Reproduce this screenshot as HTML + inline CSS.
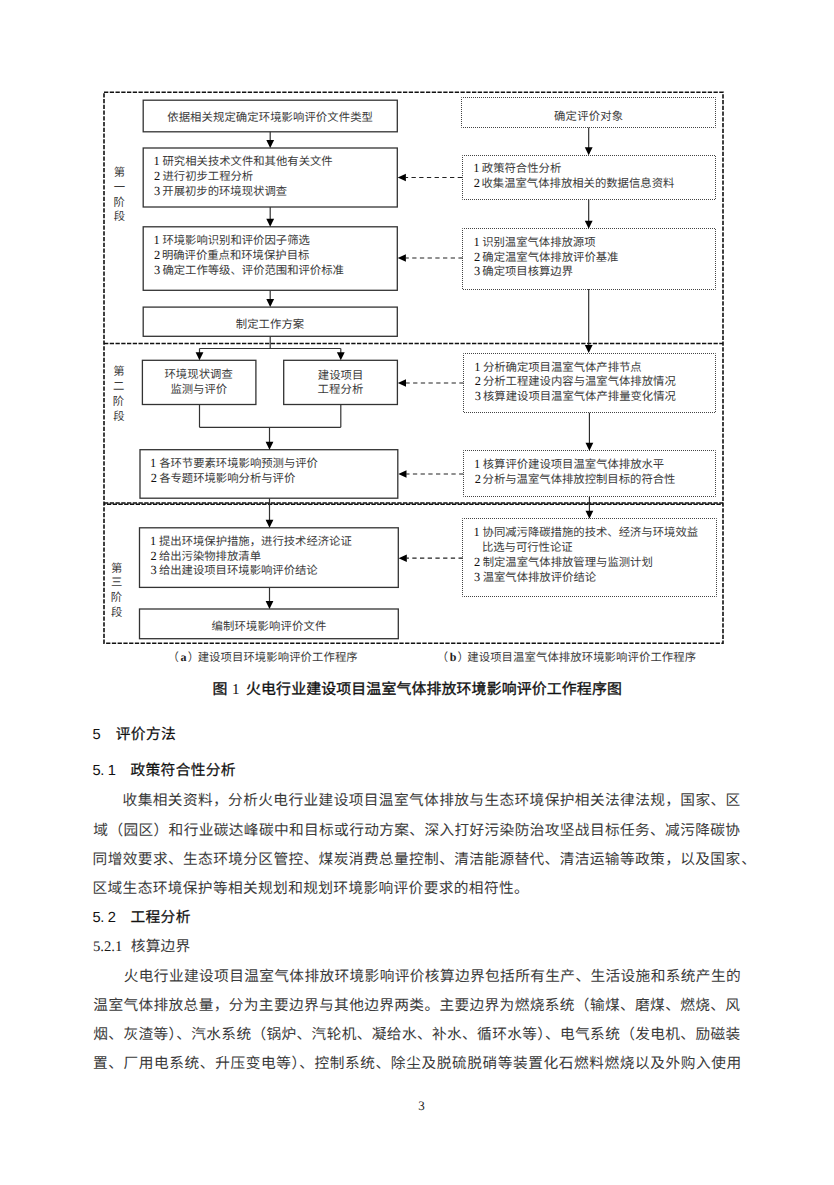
<!DOCTYPE html>
<html lang="zh-CN"><head><meta charset="utf-8"><title>火电行业建设项目温室气体排放环境影响评价</title>
<style>
html,body{margin:0;padding:0;background:#fff;}
body{text-rendering:geometricPrecision;width:834px;height:1185px;overflow:hidden;position:relative;font-family:"Liberation Serif",serif;}
svg{position:absolute;left:0;top:0;}
.bx{fill:none;stroke:#333;stroke-width:1.3;}
.dt{fill:none;stroke:#444;stroke-width:1;stroke-dasharray:1 1;stroke-dashoffset:0.5;}
.fr{fill:none;stroke:#111;stroke-width:1.6;stroke-dasharray:4.3 1.45;}
.frl{fill:none;stroke:#111;stroke-width:1.5;stroke-dasharray:4.3 1.45;}
.frl2{fill:none;stroke:#111;stroke-width:1.4;stroke-dasharray:4.3 1.45;stroke-dashoffset:2.8;}
.ln{stroke:#333;stroke-width:1.2;}
.lnb{stroke:#222;stroke-width:1.1;}
.dl{stroke:#222;stroke-width:1.2;stroke-dasharray:4.3 3.4;}
.hd{fill:#000;}
text{font-family:"Liberation Serif",serif;}
.t{font-size:11.35px;fill:#3a3a3a;}
.td{font-size:12.4px;fill:#111;}
.tb{font-family:"Liberation Serif",serif;font-size:12px;font-weight:bold;fill:#222;}
.ti{font-family:"Liberation Sans",sans-serif;font-size:14.9px;fill:#111;stroke:#111;stroke-width:0.35px;}
.ti1{font-family:"Liberation Serif",serif;font-size:15px;fill:#111;}
.b{font-size:14.7px;fill:#3a3a3a;}
.bn{font-size:14.7px;fill:#1a1a1a;}
.h{font-family:"Liberation Sans",sans-serif;font-size:14.7px;fill:#111;stroke:#111;stroke-width:0.25px;}
.hn{font-family:"Liberation Sans",sans-serif;font-size:14.7px;fill:#111;}
.pn{font-size:13px;fill:#222;}
</style></head>
<body>
<svg width="834" height="1185" viewBox="0 0 834 1185">
<rect x="104" y="92.3" width="619" height="550.9" class="fr"/>
<line x1="104" y1="343.6" x2="723" y2="343.6" class="frl"/>
<line x1="104" y1="503.1" x2="723" y2="503.1" class="frl"/>
<line x1="104" y1="504.3" x2="723" y2="504.3" class="frl2"/>
<rect x="143.2" y="100.2" width="254.10" height="31.60" class="bx"/>
<rect x="143.2" y="148" width="254.10" height="59.00" class="bx"/>
<rect x="143.2" y="226.8" width="254.10" height="63.50" class="bx"/>
<rect x="143.2" y="307.1" width="254.10" height="29.20" class="bx"/>
<rect x="142.4" y="360.3" width="113.50" height="44.20" class="bx"/>
<rect x="283.7" y="360.3" width="113.70" height="44.20" class="bx"/>
<rect x="140" y="449.7" width="257.80" height="48.50" class="bx"/>
<rect x="139.5" y="527.8" width="258.80" height="59.60" class="bx"/>
<rect x="139.5" y="609" width="258.80" height="29.70" class="bx"/>
<rect x="461.5" y="97.5" width="254.00" height="30.00" class="dt"/>
<rect x="462.5" y="155.5" width="253.00" height="44.00" class="dt"/>
<rect x="462.5" y="228.5" width="253.00" height="61.00" class="dt"/>
<rect x="463.5" y="353.5" width="252.00" height="59.00" class="dt"/>
<rect x="463.5" y="450.5" width="252.00" height="46.00" class="dt"/>
<rect x="462.5" y="518.5" width="254.00" height="78.00" class="dt"/>
<line x1="270.2" y1="131.8" x2="270.2" y2="141" class="ln"/>
<path d="M266.30,140.00 L274.10,140.00 L270.20,148.00 Z" class="hd"/>
<line x1="270.2" y1="207" x2="270.2" y2="219.8" class="ln"/>
<path d="M266.30,218.80 L274.10,218.80 L270.20,226.80 Z" class="hd"/>
<line x1="270.2" y1="290.3" x2="270.2" y2="300.1" class="ln"/>
<path d="M266.30,299.10 L274.10,299.10 L270.20,307.10 Z" class="hd"/>
<line x1="270.2" y1="336.3" x2="270.2" y2="348.5" class="ln"/>
<line x1="199.5" y1="348.5" x2="340.8" y2="348.5" class="ln"/>
<line x1="199.5" y1="348.5" x2="199.5" y2="353.3" class="ln"/>
<path d="M195.60,352.30 L203.40,352.30 L199.50,360.30 Z" class="hd"/>
<line x1="340.8" y1="348.5" x2="340.8" y2="353.3" class="ln"/>
<path d="M336.90,352.30 L344.70,352.30 L340.80,360.30 Z" class="hd"/>
<line x1="199.5" y1="404.5" x2="199.5" y2="427.3" class="ln"/>
<line x1="340.8" y1="404.5" x2="340.8" y2="427.3" class="ln"/>
<line x1="199.5" y1="427.3" x2="340.8" y2="427.3" class="ln"/>
<line x1="269.5" y1="427.3" x2="269.5" y2="442.7" class="ln"/>
<path d="M265.60,441.70 L273.40,441.70 L269.50,449.70 Z" class="hd"/>
<line x1="269.5" y1="498.2" x2="269.5" y2="520.8" class="ln"/>
<path d="M265.60,519.80 L273.40,519.80 L269.50,527.80 Z" class="hd"/>
<line x1="269.5" y1="587.4" x2="269.5" y2="602" class="ln"/>
<path d="M265.60,601.00 L273.40,601.00 L269.50,609.00 Z" class="hd"/>
<line x1="588.7" y1="127.6" x2="588.7" y2="148.3" class="lnb"/>
<path d="M584.80,147.30 L592.60,147.30 L588.70,155.30 Z" class="hd"/>
<line x1="588.7" y1="199.5" x2="588.7" y2="221.8" class="lnb"/>
<path d="M584.80,220.80 L592.60,220.80 L588.70,228.80 Z" class="hd"/>
<line x1="588.7" y1="289.1" x2="588.7" y2="346.1" class="lnb"/>
<path d="M584.80,345.10 L592.60,345.10 L588.70,353.10 Z" class="hd"/>
<line x1="589.4" y1="412.7" x2="589.4" y2="443.7" class="lnb"/>
<path d="M585.50,442.70 L593.30,442.70 L589.40,450.70 Z" class="hd"/>
<line x1="589.4" y1="496.9" x2="589.4" y2="511.70000000000005" class="lnb"/>
<path d="M585.50,510.70 L593.30,510.70 L589.40,518.70 Z" class="hd"/>
<line x1="462.0" y1="177.5" x2="405.7" y2="177.5" class="dl"/>
<path d="M405.90,173.70 L405.90,181.30 L397.70,177.50 Z" class="hd"/>
<line x1="462.7" y1="258" x2="405.7" y2="258" class="dl"/>
<path d="M405.90,254.20 L405.90,261.80 L397.70,258.00 Z" class="hd"/>
<line x1="463.6" y1="383" x2="405.8" y2="383" class="dl"/>
<path d="M406.00,379.20 L406.00,386.80 L397.80,383.00 Z" class="hd"/>
<line x1="463.4" y1="474" x2="406.3" y2="474" class="dl"/>
<path d="M406.50,470.20 L406.50,477.80 L398.30,474.00 Z" class="hd"/>
<line x1="462.8" y1="558.2" x2="406.6" y2="558.2" class="dl"/>
<path d="M406.80,554.40 L406.80,562.00 L398.60,558.20 Z" class="hd"/>
<text x="167.24" y="121.01" class="t" textLength="205.71" lengthAdjust="spacing">依据相关规定确定环境影响评价文件类型</text>
<text x="162.54" y="165.43" class="t">研究相关技术文件和其他有关文件</text>
<text x="153.51" y="165.43" class="td">1</text>
<text x="162.47" y="180.30" class="t">进行初步工程分析</text>
<text x="154.06" y="180.30" class="td">2</text>
<text x="162.31" y="195.32" class="t">开展初步的环境现状调查</text>
<text x="154.01" y="195.32" class="td">3</text>
<text x="162.39" y="244.20" class="t">环境影响识别和评价因子筛选</text>
<text x="153.51" y="244.20" class="td">1</text>
<text x="161.89" y="259.20" class="t">明确评价重点和环境保护目标</text>
<text x="154.06" y="259.20" class="td">2</text>
<text x="162.40" y="274.31" class="t">确定工作等级、评价范围和评价标准</text>
<text x="154.01" y="274.31" class="td">3</text>
<text x="235.83" y="328.24" class="t" textLength="68.28" lengthAdjust="spacing">制定工作方案</text>
<text x="164.39" y="378.33" class="t" textLength="68.42" lengthAdjust="spacing">环境现状调查</text>
<text x="170.48" y="393.18" class="t" textLength="56.56" lengthAdjust="spacing">监测与评价</text>
<text x="317.78" y="378.50" class="t" textLength="45.47" lengthAdjust="spacing">建设项目</text>
<text x="317.61" y="393.20" class="t" textLength="45.69" lengthAdjust="spacing">工程分析</text>
<text x="159.17" y="467.31" class="t">各环节要素环境影响预测与评价</text>
<text x="150.11" y="467.31" class="td">1</text>
<text x="159.17" y="482.21" class="t">各专题环境影响分析与评价</text>
<text x="150.66" y="482.21" class="td">2</text>
<text x="158.97" y="544.99" class="t">提出环境保护措施，进行技术经济论证</text>
<text x="149.91" y="544.99" class="td">1</text>
<text x="158.90" y="560.01" class="t">给出污染物排放清单</text>
<text x="150.46" y="560.01" class="td">2</text>
<text x="158.90" y="574.30" class="t">给出建设项目环境影响评价结论</text>
<text x="150.41" y="574.30" class="td">3</text>
<text x="211.57" y="630.31" class="t" textLength="114.76" lengthAdjust="spacing">编制环境影响评价文件</text>
<text x="554.10" y="119.71" class="t" textLength="68.93" lengthAdjust="spacing">确定评价对象</text>
<text x="481.83" y="172.22" class="t">政策符合性分析</text>
<text x="473.21" y="172.22" class="td">1</text>
<text x="481.51" y="186.85" class="t">收集温室气体排放相关的数据信息资料</text>
<text x="473.76" y="186.85" class="td">2</text>
<text x="482.13" y="246.25" class="t">识别温室气体排放源项</text>
<text x="473.41" y="246.25" class="td">1</text>
<text x="482.30" y="261.02" class="t">确定温室气体排放评价基准</text>
<text x="473.96" y="261.02" class="td">2</text>
<text x="482.30" y="275.22" class="t">确定项目核算边界</text>
<text x="473.91" y="275.22" class="td">3</text>
<text x="482.90" y="371.03" class="t">分析确定项目温室气体产排节点</text>
<text x="474.31" y="371.03" class="td">1</text>
<text x="482.90" y="385.35" class="t">分析工程建设内容与温室气体排放情况</text>
<text x="474.86" y="385.35" class="td">2</text>
<text x="483.03" y="399.93" class="t">核算建设项目温室气体产排量变化情况</text>
<text x="474.81" y="399.93" class="td">3</text>
<text x="482.73" y="468.22" class="t">核算评价建设项目温室气体排放水平</text>
<text x="474.11" y="468.22" class="td">1</text>
<text x="482.60" y="482.85" class="t">分析与温室气体排放控制目标的符合性</text>
<text x="474.66" y="482.85" class="td">2</text>
<text x="482.57" y="536.42" class="t">协同减污降碳措施的技术、经济与环境效益</text>
<text x="473.51" y="536.42" class="td">1</text>
<text x="481.90" y="551.31" class="t">比选与可行性论证</text>
<text x="482.63" y="566.45" class="t">制定温室气体排放管理与监测计划</text>
<text x="474.06" y="566.45" class="td">2</text>
<text x="482.67" y="580.62" class="t">温室气体排放评价结论</text>
<text x="474.01" y="580.62" class="td">3</text>
<text x="113.76" y="176.34" class="t">第</text>
<text x="113.70" y="190.83" class="t">一</text>
<text x="113.45" y="205.82" class="t">阶</text>
<text x="113.76" y="220.42" class="t">段</text>
<text x="113.16" y="375.24" class="t">第</text>
<text x="113.11" y="390.17" class="t">二</text>
<text x="112.85" y="405.22" class="t">阶</text>
<text x="113.16" y="420.42" class="t">段</text>
<text x="110.96" y="571.54" class="t">第</text>
<text x="110.93" y="586.48" class="t">三</text>
<text x="110.65" y="601.22" class="t">阶</text>
<text x="110.96" y="616.42" class="t">段</text>
<text x="197.68" y="661.20" class="t" textLength="159.98" lengthAdjust="spacing">建设项目环境影响评价工作程序</text>
<text x="167.51" y="661.20" class="t">（</text>
<text x="180.41" y="661.20" class="tb">a</text>
<text x="187.78" y="661.20" class="t">）</text>
<text x="467.28" y="661.22" class="t" textLength="228.78" lengthAdjust="spacing">建设项目温室气体排放环境影响评价工作程序</text>
<text x="436.81" y="661.22" class="t">（</text>
<text x="449.85" y="661.22" class="tb">b</text>
<text x="457.48" y="661.22" class="t">）</text>
<text x="246.04" y="693.58" class="ti" textLength="375.80" lengthAdjust="spacing">火电行业建设项目温室气体排放环境影响评价工作程序图</text>
<text x="212.55" y="693.58" class="ti">图</text>
<text x="231.88" y="693.58" class="ti1">1</text>
<text x="115.77" y="738.57" class="h" textLength="60.00" lengthAdjust="spacing">评价方法</text>
<text x="92.41" y="738.57" class="hn">5</text>
<text x="130.51" y="775.49" class="h" textLength="105.03" lengthAdjust="spacing">政策符合性分析</text>
<text x="92.41" y="775.49" class="hn">5</text>
<text x="100.36" y="775.49" class="hn">.</text>
<text x="107.78" y="775.49" class="hn">1</text>
<text x="122.60" y="805.16" class="b" textLength="617.70" lengthAdjust="spacing">收集相关资料，分析火电行业建设项目温室气体排放与生态环境保护相关法律法规，国家、区</text>
<text x="93.37" y="834.55" class="b" textLength="646.64" lengthAdjust="spacing">域（园区）和行业碳达峰碳中和目标或行动方案、深入打好污染防治攻坚战目标任务、减污降碳协</text>
<text x="92.61" y="863.66" class="b" textLength="647.49" lengthAdjust="spacing">同增效要求、生态环境分区管控、煤炭消费总量控制、清洁能源替代、清洁运输等政策，以及国家</text>
<text x="92.47" y="893.05" class="b" textLength="436.23" lengthAdjust="spacing">区域生态环境保护等相关规划和规划环境影响评价要求的相符性。</text>
<text x="741.24" y="863.95" class="b">、</text>
<text x="130.44" y="921.96" class="h" textLength="59.91" lengthAdjust="spacing">工程分析</text>
<text x="92.41" y="921.96" class="hn">5</text>
<text x="100.36" y="921.96" class="hn">.</text>
<text x="107.76" y="921.96" class="hn">2</text>
<text x="130.71" y="950.78" class="b" textLength="59.54" lengthAdjust="spacing">核算边界</text>
<text x="92.95" y="950.78" class="bn">5.2.1</text>
<text x="123.75" y="980.70" class="b" textLength="616.89" lengthAdjust="spacing">火电行业建设项目温室气体排放环境影响评价核算边界包括所有生产、生活设施和系统产生的</text>
<text x="93.34" y="1009.87" class="b" textLength="646.68" lengthAdjust="spacing">温室气体排放总量，分为主要边界与其他边界两类。主要边界为燃烧系统（输煤、磨煤、燃烧、风</text>
<text x="93.33" y="1039.21" class="b" textLength="646.85" lengthAdjust="spacing">烟、灰渣等）、汽水系统（锅炉、汽轮机、凝给水、补水、循环水等）、电气系统（发电机、励磁装</text>
<text x="93.06" y="1068.47" class="b" textLength="648.20" lengthAdjust="spacing">置、厂用电系统、升压变电等）、控制系统、除尘及脱硫脱硝等装置化石燃料燃烧以及外购入使用</text>
<text x="418.28" y="1110.24" class="pn">3</text>
</svg>
</body></html>
